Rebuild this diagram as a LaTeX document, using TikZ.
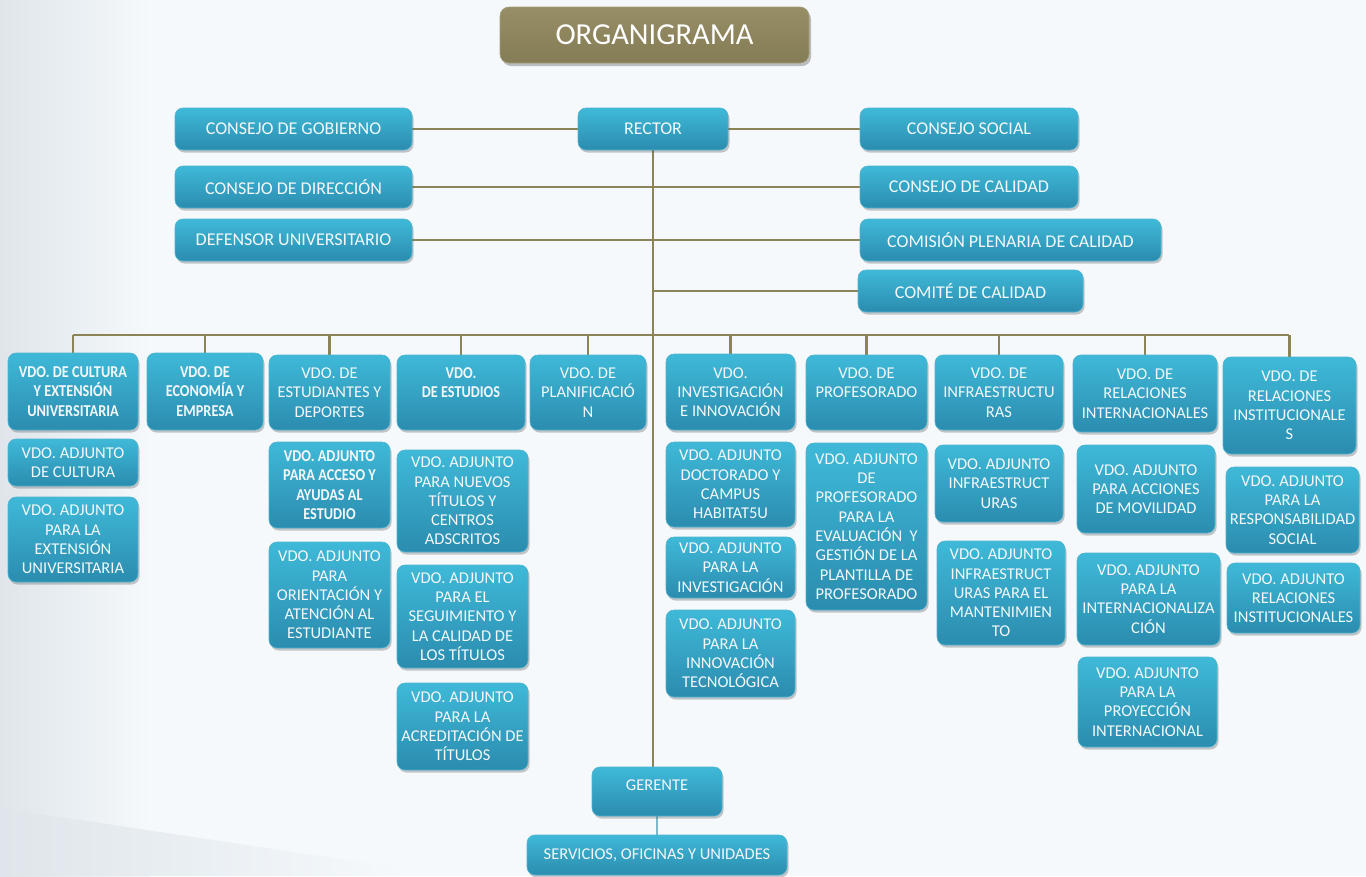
\documentclass[tikz,border=0pt]{standalone}
\usepackage{fontspec}
\setmainfont{Carlito}
\newfontfamily\cbold{Carlito}[FakeStretch=0.86]
\usetikzlibrary{shadows,calc}
\pgfdeclarelayer{bgzero}
\pgfdeclarelayer{links}
\pgfsetlayers{bgzero,links,main}
\definecolor{bgc}{HTML}{F5F9FC}
\definecolor{bgl}{HTML}{DFE5EA}
\definecolor{boxtop}{HTML}{3FB9D8}
\definecolor{boxbot}{HTML}{2B8CAF}
\definecolor{boxedge}{HTML}{4FB4CF}
\definecolor{olive}{HTML}{8C8557}
\definecolor{olivetop}{HTML}{978E66}
\definecolor{olivebot}{HTML}{847C55}
\definecolor{txtc}{HTML}{F2F8FA}
\definecolor{linkc}{HTML}{8A8456}
\definecolor{bluelink}{HTML}{7DB9C9}
\tikzset{
  obox/.style={rounded corners=8pt, top color=boxtop, bottom color=boxbot,
    draw=boxedge, line width=0.6pt, inner sep=0pt, align=center,
    text=txtc, font=\fontsize{16.5}{19.3}\selectfont,
    drop shadow={shadow xshift=1.5pt, shadow yshift=-2.5pt, opacity=0.3, fill=black!70}},
  obig/.style={obox, font=\fontsize{18}{21}\selectfont},
  obold/.style={obox, font=\fontsize{16.6}{19.3}\selectfont\cbold\bfseries},
  tbox/.style={rounded corners=9pt, top color=olivetop, bottom color=olivebot,
    draw=olive!80!white, line width=0.6pt, inner sep=0pt, align=center,
    text=white, font=\fontsize{30.5}{34}\selectfont,
    drop shadow={shadow xshift=2pt, shadow yshift=-3pt, opacity=0.35, fill=black!70}},
  link/.style={draw=linkc, line width=2.8pt},
  blink/.style={draw=bluelink, line width=2.6pt}
}
\newcommand\orgbox[7][obox]{%
  \node[#1, minimum width={#5-#3}, minimum height={#6-#4}] (#2) at ({(#3+#5)/2},{(#4+#6)/2}) {#7};}
\begin{document}
\begin{tikzpicture}[x=1pt,y=-1pt]
% background
\begin{pgfonlayer}{bgzero}
\fill[bgc] (0,0) rectangle (1366,876);
\shade[left color=bgl, right color=bgc] (0,0) rectangle (150,876);
\shade[left color=bgl, right color=bgc] (0,808) -- (400,868) -- (400,876) -- (0,876) -- cycle;
\end{pgfonlayer}
\useasboundingbox (0,0) rectangle (1366,876);

% title
\orgbox[tbox]{title}{500}{7}{809}{63}{ORGANIGRAMA}

% governing bodies
\orgbox[obig]{cg}{175}{108}{412}{150}{CONSEJO DE GOBIERNO}
\orgbox[obig]{rector}{578}{108}{728}{150}{RECTOR}
\orgbox[obig]{cs}{860}{108}{1078}{150}{CONSEJO SOCIAL}
\orgbox[obig]{cd}{175}{166}{412}{208}{CONSEJO DE DIRECCIÓN}
\orgbox[obig]{cc}{860}{166}{1078}{208}{CONSEJO DE CALIDAD}
\orgbox[obig]{du}{175}{219}{412}{261}{DEFENSOR UNIVERSITARIO}
\orgbox[obig]{cp}{860}{219}{1161}{261}{COMISIÓN PLENARIA DE CALIDAD}
\orgbox[obig]{cm}{858}{270}{1083}{312}{COMITÉ DE CALIDAD}

% vicerrectorados
\orgbox[obold]{v1}{8}{353}{138}{430}{VDO. DE CULTURA\\Y EXTENSIÓN\\UNIVERSITARIA}
\orgbox[obold]{v2}{147}{353}{263}{430}{VDO. DE\\ECONOMÍA Y\\EMPRESA}
\orgbox{v3}{269}{355}{390}{430}{VDO. DE\\ESTUDIANTES Y\\DEPORTES}
\orgbox[obold]{v4}{397}{355}{525}{430}{VDO.\\DE ESTUDIOS\\~}
\orgbox{v5}{530}{355}{646}{430}{VDO. DE\\PLANIFICACIÓ\\N}
\orgbox{v6}{666}{354}{795}{430}{VDO.\\INVESTIGACIÓN\\E INNOVACIÓN}
\orgbox{v7}{806}{355}{927}{430}{VDO. DE\\PROFESORADO\\~}
\orgbox{v8}{935}{355}{1063}{430}{VDO. DE\\INFRAESTRUCTU\\RAS}
\orgbox{v9}{1073}{355}{1217}{432}{VDO. DE\\RELACIONES\\INTERNACIONALES}
\orgbox{v10}{1223}{357}{1356}{454}{VDO. DE\\RELACIONES\\INSTITUCIONALE\\S}

% adjuntos
\orgbox{a1}{8}{439}{138}{486}{VDO. ADJUNTO\\DE CULTURA}
\orgbox{a2}{8}{497}{138}{582}{VDO. ADJUNTO\\PARA LA\\EXTENSIÓN\\UNIVERSITARIA}
\orgbox[obold]{a3}{269}{442}{390}{528}{VDO. ADJUNTO\\PARA ACCESO Y\\AYUDAS AL\\ESTUDIO}
\orgbox{a4}{269}{542}{390}{648}{VDO. ADJUNTO\\PARA\\ORIENTACIÓN Y\\ATENCIÓN AL\\ESTUDIANTE}
\orgbox{a5}{397}{450}{528}{552}{VDO. ADJUNTO\\PARA NUEVOS\\TÍTULOS Y\\CENTROS\\ADSCRITOS}
\orgbox{a6}{397}{565}{528}{668}{VDO. ADJUNTO\\PARA EL\\SEGUIMIENTO Y\\LA CALIDAD DE\\LOS TÍTULOS}
\orgbox{a7}{397}{683}{528}{770}{VDO. ADJUNTO\\PARA LA\\ACREDITACIÓN DE\\TÍTULOS}
\orgbox{a8}{666}{442}{795}{527}{VDO. ADJUNTO\\DOCTORADO Y\\CAMPUS\\HABITAT5U}
\orgbox{a9}{666}{537}{795}{598}{VDO. ADJUNTO\\PARA LA\\INVESTIGACIÓN}
\orgbox{a10}{666}{610}{795}{697}{VDO. ADJUNTO\\PARA LA\\INNOVACIÓN\\TECNOLÓGICA}
\orgbox{a11}{806}{443}{927}{610}{VDO. ADJUNTO\\DE\\PROFESORADO\\PARA LA\\EVALUACIÓN~~Y\\GESTIÓN DE LA\\PLANTILLA DE\\PROFESORADO}
\orgbox{a12}{935}{445}{1063}{522}{VDO. ADJUNTO\\INFRAESTRUCT\\URAS}
\orgbox{a13}{937}{541}{1065}{645}{VDO. ADJUNTO\\INFRAESTRUCT\\URAS PARA EL\\MANTENIMIEN\\TO}
\orgbox{a14}{1077}{445}{1215}{533}{VDO. ADJUNTO\\PARA ACCIONES\\DE MOVILIDAD}
\orgbox{a15}{1077}{553}{1220}{645}{VDO. ADJUNTO\\PARA LA\\INTERNACIONALIZA\\CIÓN}
\orgbox{a16}{1078}{657}{1217}{747}{VDO. ADJUNTO\\PARA LA\\PROYECCIÓN\\INTERNACIONAL}
\orgbox{a17}{1226}{467}{1359}{553}{VDO. ADJUNTO\\PARA LA\\RESPONSABILIDAD\\SOCIAL}
\orgbox{a18}{1227}{563}{1360}{633}{VDO. ADJUNTO\\RELACIONES\\INSTITUCIONALES}

% gerencia
\orgbox{ger}{592}{767}{722}{816}{GERENTE\\[-6pt]~}
\orgbox{srv}{527}{835}{787}{875}{SERVICIOS, OFICINAS Y UNIDADES}

% connectors
\coordinate (busL) at (73,335);
\coordinate (busR) at (1289,335);
\begin{pgfonlayer}{links}
\draw[link] (cg.east) -- (rector.west);
\draw[link] (rector.east) -- (cs.west);
\draw[link] (cd.east) -- (cc.west);
\draw[link] (du.east) -- (cp.west);
\draw[link] (rector.south) -- (rector.south |- ger.north);
\draw[link] (rector.south |- cm.west) -- (cm.west);
\draw[link] (busL) -- (busR);
\foreach \v in {v1,v2,v3,v4,v5,v6,v7,v8,v9,v10}
  \draw[link] (\v.north) -- (\v.north |- busL);
\draw[blink] (ger.south) -- (srv.north);
\end{pgfonlayer}
\end{tikzpicture}
\end{document}
